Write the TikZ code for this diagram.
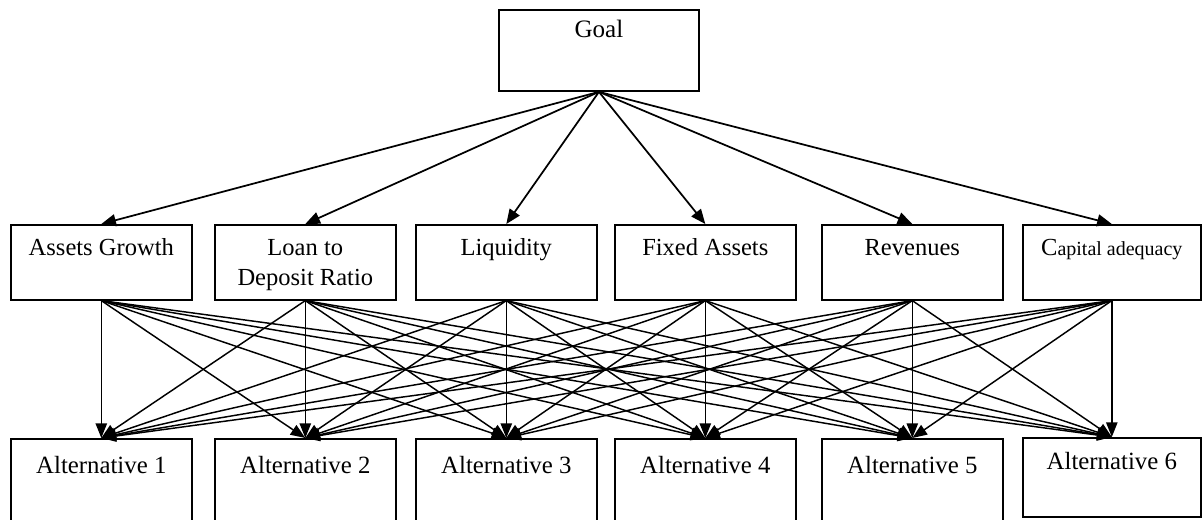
\documentclass[tikz,border=0pt]{standalone}
\usepackage{fontspec}
\setmainfont{Liberation Serif}
\usepackage{tikz}
\usetikzlibrary{arrows.meta}
\tikzstyle{NodeGoal}=[draw,line width=1.4pt,anchor=north west,inner sep=0pt,minimum width=150pt,
text height=21pt,text depth=39.75pt,font=\fontsize{18.8}{22.5}\selectfont]
\tikzstyle{NodeCrit}=[draw,line width=1.2pt,anchor=north west,inner sep=0pt,minimum width=135.75pt,
align=center,text height=23.25pt,text depth=33pt,font=\fontsize{18.4}{22.5}\selectfont]
\tikzstyle{NodeAlt}=[draw,line width=1.2pt,anchor=north west,inner sep=0pt,minimum width=135.75pt,
text height=26.25pt,text depth=90pt,font=\fontsize{18.6}{22.5}\selectfont]
\tikzstyle{EdgeTop}=[line width=1.3pt,-{Triangle[length=11pt,width=9pt]}]
\tikzstyle{EdgeLow}=[line width=1.1pt,-{Triangle[length=11pt,width=8.5pt]}]

\begin{document}
\begin{tikzpicture}[x=0.75pt,y=-0.75pt]
        \useasboundingbox (0,0) rectangle (1202,519);
        \node[NodeGoal](Goal)at(498,9){Goal};
        \node[NodeCrit](AG)at(10,224){Assets Growth};
        \node[NodeCrit,text height=45.75pt,text depth=10.5pt](LDR)at(214,224){Loan to\\Deposit Ratio};
        \node[NodeCrit](Liq)at(415,224){Liquidity};
        \node[NodeCrit](FA)at(614,224){Fixed Assets};
        \node[NodeCrit](Rev)at(821,224){Revenues};
        \node[NodeCrit,minimum width=133.5pt](CA)at(1022,224){C{\fontsize{15}{18}\selectfont apital adequacy}};
        \node[NodeAlt](Alt1)at(10,438){Alternative 1};
        \node[NodeAlt](Alt2)at(214,438){Alternative 2};
        \node[NodeAlt](Alt3)at(415,438){Alternative 3};
        \node[NodeAlt](Alt4)at(614,438){Alternative 4};
        \node[NodeAlt](Alt5)at(821,438){Alternative 5};
        \node[NodeAlt,minimum width=133.5pt,text height=24pt,text depth=35.25pt](Alt6)at(1022,437){Alternative 6};
        \draw[EdgeTop](Goal.south)--(AG.north);
        \draw[EdgeTop](Goal.south)--(LDR.north);
        \draw[EdgeTop](Goal.south)--(Liq.north);
        \draw[EdgeTop](Goal.south)--(FA.north);
        \draw[EdgeTop](Goal.south)--(Rev.north);
        \draw[EdgeTop](Goal.south)--(CA.north);
        \draw[EdgeLow](AG.south)--(Alt1.north);
        \draw[EdgeLow](AG.south)--(Alt2.north);
        \draw[EdgeLow](AG.south)--(Alt3.north);
        \draw[EdgeLow](AG.south)--(Alt4.north);
        \draw[EdgeLow](AG.south)--(Alt5.north);
        \draw[EdgeLow](AG.south)--(Alt6.north);
        \draw[EdgeLow](LDR.south)--(Alt1.north);
        \draw[EdgeLow](LDR.south)--(Alt2.north);
        \draw[EdgeLow](LDR.south)--(Alt3.north);
        \draw[EdgeLow](LDR.south)--(Alt4.north);
        \draw[EdgeLow](LDR.south)--(Alt5.north);
        \draw[EdgeLow](LDR.south)--(Alt6.north);
        \draw[EdgeLow](Liq.south)--(Alt1.north);
        \draw[EdgeLow](Liq.south)--(Alt2.north);
        \draw[EdgeLow](Liq.south)--(Alt3.north);
        \draw[EdgeLow](Liq.south)--(Alt4.north);
        \draw[EdgeLow](Liq.south)--(Alt5.north);
        \draw[EdgeLow](Liq.south)--(Alt6.north);
        \draw[EdgeLow](FA.south)--(Alt1.north);
        \draw[EdgeLow](FA.south)--(Alt2.north);
        \draw[EdgeLow](FA.south)--(Alt3.north);
        \draw[EdgeLow](FA.south)--(Alt4.north);
        \draw[EdgeLow](FA.south)--(Alt5.north);
        \draw[EdgeLow](FA.south)--(Alt6.north);
        \draw[EdgeLow](Rev.south)--(Alt1.north);
        \draw[EdgeLow](Rev.south)--(Alt2.north);
        \draw[EdgeLow](Rev.south)--(Alt3.north);
        \draw[EdgeLow](Rev.south)--(Alt4.north);
        \draw[EdgeLow](Rev.south)--(Alt5.north);
        \draw[EdgeLow](Rev.south)--(Alt6.north);
        \draw[EdgeLow](CA.south)--(Alt1.north);
        \draw[EdgeLow](CA.south)--(Alt2.north);
        \draw[EdgeLow](CA.south)--(Alt3.north);
        \draw[EdgeLow](CA.south)--(Alt4.north);
        \draw[EdgeLow](CA.south)--(Alt5.north);
        \draw[EdgeLow](CA.south)--(Alt6.north);
    \end{tikzpicture}
\end{document}
